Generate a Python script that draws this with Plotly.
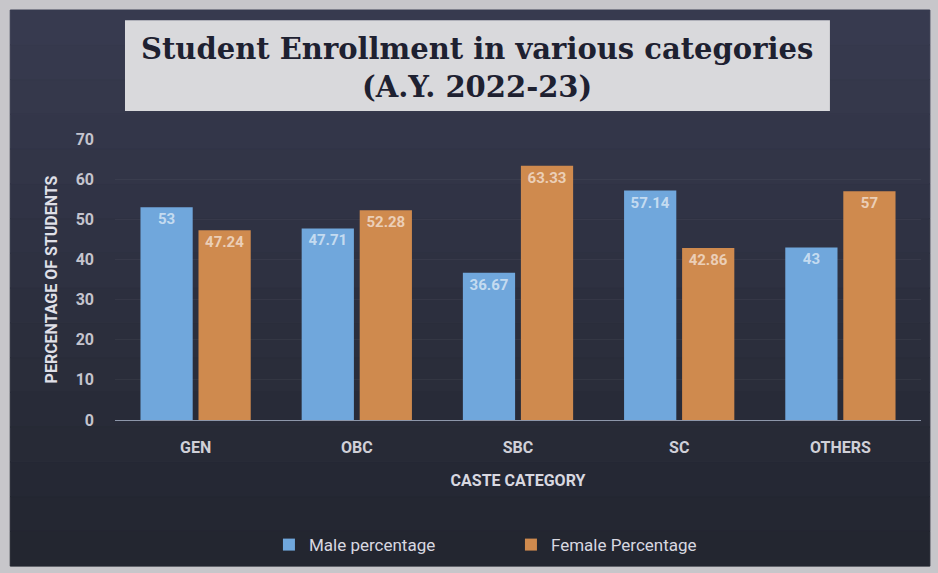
import plotly.graph_objects as go

categories = ["GEN", "OBC", "SBC", "SC", "OTHERS"]
male_pct = [53, 47.71, 36.67, 57.14, 43]
female_pct = [47.24, 52.28, 63.33, 42.86, 57]
male_labels = ["53", "47.71", "36.67", "57.14", "43"]
female_labels = ["47.24", "52.28", "63.33", "42.86", "57"]
y_ticks = [0, 10, 20, 30, 40, 50, 60, 70]

FONT = "Liberation Sans Narrow, Roboto, Open Sans, sans-serif"

fig = go.Figure()
fig.add_trace(go.Bar(
    name="Male percentage", x=categories, y=male_pct, text=male_labels,
    marker=dict(color="#70a7dc", line=dict(width=0)),
    textposition="inside", insidetextanchor="end",
    textfont=dict(color="rgba(255,255,255,0.6)", size=15, family=FONT, weight="bold"),
))
fig.add_trace(go.Bar(
    name="Female Percentage", x=categories, y=female_pct, text=female_labels,
    marker=dict(color="#cf8a4e", line=dict(width=0)),
    textposition="inside", insidetextanchor="end",
    textfont=dict(color="rgba(255,255,255,0.6)", size=15, family=FONT, weight="bold"),
))

# dark chart background (vertical gradient in bands) and title box
x0p, x1p = -0.130, 1.011
ytop, ybot = 1.459, -0.520
nb = 16
top_rgb = (0x38, 0x3b, 0x50)
bot_rgb = (0x22, 0x25, 0x2f)
for i in range(nb):
    f = (i + 0.5) / nb
    c = tuple(int(round(top_rgb[k] + (bot_rgb[k] - top_rgb[k]) * f)) for k in range(3))
    col = "rgb(%d,%d,%d)" % c
    ya = ytop - (ytop - ybot) * i / nb
    yb = ytop - (ytop - ybot) * (i + 1) / nb
    fig.add_shape(type="rect", xref="paper", yref="paper", x0=x0p, x1=x1p, y0=yb, y1=ya,
                  fillcolor=col, line=dict(width=1, color=col), layer="below")
fig.add_shape(type="rect", xref="paper", yref="paper", x0=0.0124, x1=0.887, y0=1.100, y1=1.423,
              fillcolor="#d9d9dc", line=dict(width=0), layer="below")
fig.add_annotation(xref="paper", yref="paper", x=0.449, y=1.254, xanchor="center", yanchor="middle",
                   showarrow=False,
                   text="<b>Student Enrollment in various categories</b><br><b>(A.Y. 2022-23)</b>",
                   font=dict(family="DejaVu Serif, Liberation Serif, serif", size=29, color="#1e2131"),
                   align="center")

fig.update_layout(
    width=938, height=573,
    paper_bgcolor="#c7c6ca", plot_bgcolor="rgba(0,0,0,0)",
    margin=dict(l=115, r=17, t=139, b=153, autoexpand=False),
    barmode="group", bargap=0.28, bargroupgap=0.1,
    font=dict(family=FONT, color="#d0d0d8"),
    showlegend=True,
    legend=dict(orientation="h", x=0.191, xanchor="left", y=-0.445, yanchor="middle",
                font=dict(size=17, color="#d8d8e0", family=FONT), bgcolor="rgba(0,0,0,0)",
                itemwidth=30, entrywidth=197, entrywidthmode="pixels"),
    xaxis=dict(
        showgrid=False, showline=True, linecolor="#8d97aa", linewidth=1,
        ticklabelstandoff=13, automargin=False,
        tickfont=dict(size=16, color="#d0d0d8", family=FONT, weight="bold"),
        title=dict(text="CASTE CATEGORY", font=dict(size=16, color="#d8d8e0", family=FONT, weight="bold"), standoff=18),
    ),
    yaxis=dict(
        range=[0, 70], tickvals=y_ticks, showgrid=True, gridcolor="rgba(255,255,255,0.045)",
        zeroline=False, ticklabelstandoff=20, automargin=False,
        tickfont=dict(size=16, color="#c4c4ce", family=FONT, weight="bold"),
        title=dict(text="PERCENTAGE OF STUDENTS", font=dict(size=16, color="#e0e0e8", family=FONT, weight="bold"), standoff=14),
    ),
)

fig.write_html("out.html", config={"displayModeBar": False},
               post_script="document.body.style.margin='0';document.body.style.padding='0';")
